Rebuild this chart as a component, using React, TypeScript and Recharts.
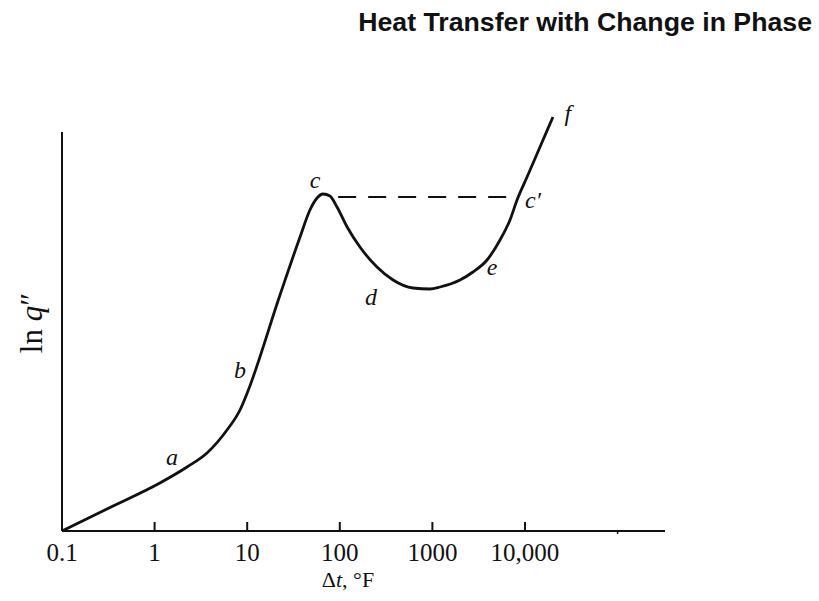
import { Customized, Line, LineChart, ReferenceDot, ReferenceLine, XAxis, YAxis } from "recharts";

// Boiling curve: ln q'' against log Δt, with regions a–f.

const DT = [
  0.1, 0.33, 1.14, 2.24, 3.68, 6.05, 8.36, 10, 22.6, 37.2, 47.6, 56.8, 65.9, 78.3, 93.3, 120,
  165, 252, 376, 617, 942, 1208, 1986, 2742, 3890, 5370, 6887, 8204, 10520, 14520, 20040,
];
const LN_Q = [
  0, 23.5, 48, 64, 78, 101, 121, 138, 236, 294, 321, 333, 337, 335, 324, 304,
  284, 264, 251, 243, 242, 244, 251, 259, 271, 291, 311, 331, 354, 384, 414,
];

const X_TICKS = [0.1, 1, 10, 100, 1000, 10000, 100000];
const X_TICK_LABELS = ["0.1", "1", "10", "100", "1000", "10,000", ""];

// dashed line c → c'
const PEAK_LEVEL = 334;
const DASH_FROM = 96;
const DASH_TO = 8204;

const Y_AXIS_TOP = 399;

const POINT_NAMES = ["a", "b", "c", "d", "e", "c′", "f"];
const POINT_DT = [1.54, 8.36, 54, 217, 4400, 12190, 29100];
const POINT_LNQ = [74, 161, 351, 234, 264, 331, 418];

const INK = "#111";
const SERIF = "'Liberation Serif', 'DejaVu Serif', serif";

const data = DT.map((dt, i) => ({ dt, lnq: LN_Q[i] }));
const points = POINT_NAMES.map((name, i) => ({ name, dt: POINT_DT[i], lnq: POINT_LNQ[i] }));

function XTick({ x, y, payload }: { x?: number; y?: number; payload?: { value: number } }) {
  const idx = X_TICKS.indexOf(payload?.value ?? -1);
  const label = X_TICK_LABELS[idx] ?? "";
  const px = x ?? 0;
  const py = y ?? 0;
  if (!label) {
    return <line x1={px} x2={px} y1={py} y2={py + 3} stroke={INK} strokeWidth={1.5} />;
  }
  return (
    <g>
      {idx > 0 && <line x1={px} x2={px} y1={py + 1} y2={py - 9} stroke={INK} strokeWidth={2} />}
      <text x={px} y={py + 30} textAnchor="middle" fontFamily={SERIF} fontSize={25} fill={INK}>
        {label}
      </text>
    </g>
  );
}

function Annotations() {
  return (
    <g>
      <text
        x={812}
        y={31}
        textAnchor="end"
        fontFamily="'Liberation Sans', Arial, sans-serif"
        fontWeight="bold"
        fontSize={26.7}
        fill={INK}
      >
        Heat Transfer with Change in Phase
      </text>
      <text x={348} y={587} textAnchor="middle" fontFamily={SERIF} fontSize={22} fill={INK}>
        Δ<tspan fontStyle="italic">t</tspan>, °F
      </text>
      <text
        x={0}
        y={0}
        transform="translate(42, 323) rotate(-90)"
        textAnchor="middle"
        fontFamily={SERIF}
        fontSize={31}
        fill={INK}
      >
        ln <tspan fontStyle="italic">q</tspan>″
      </text>
    </g>
  );
}

export default function App() {
  return (
    <div style={{ position: "absolute", left: 0, top: 0, width: 819, height: 601, background: "#fff" }}>
      <LineChart width={819} height={601} data={data} margin={{ top: 111, right: 154, bottom: 30, left: 62 }}>
        <XAxis
          dataKey="dt"
          type="number"
          scale="log"
          domain={[0.1, 325000]}
          ticks={X_TICKS}
          allowDataOverflow
          height={40}
          axisLine={{ stroke: INK, strokeWidth: 2 }}
          tickLine={false}
          tickSize={0}
          tickMargin={0}
          tick={<XTick />}
          interval={0}
        />
        <YAxis type="number" domain={[0, 420]} hide allowDataOverflow />
        <ReferenceLine
          segment={[
            { x: 0.1, y: 0 },
            { x: 0.1, y: Y_AXIS_TOP },
          ]}
          stroke={INK}
          strokeWidth={2}
        />
        <ReferenceLine
          segment={[
            { x: DASH_FROM, y: PEAK_LEVEL },
            { x: DASH_TO, y: PEAK_LEVEL },
          ]}
          stroke={INK}
          strokeWidth={2}
          strokeDasharray="18 12"
        />
        <Line
          type="monotone"
          dataKey="lnq"
          stroke={INK}
          strokeWidth={2.8}
          dot={false}
          activeDot={false}
          isAnimationActive={false}
        />
        {points.map((p) => (
          <ReferenceDot
            key={p.name}
            x={p.dt}
            y={p.lnq}
            r={0}
            ifOverflow="visible"
            shape={(props: { cx?: number; cy?: number }) => (
              <text
                x={props.cx}
                y={props.cy}
                textAnchor="middle"
                dominantBaseline="central"
                fontFamily={SERIF}
                fontStyle="italic"
                fontSize={24}
                fill={INK}
              >
                {p.name}
              </text>
            )}
          />
        ))}
        <Customized component={Annotations} />
      </LineChart>
    </div>
  );
}
